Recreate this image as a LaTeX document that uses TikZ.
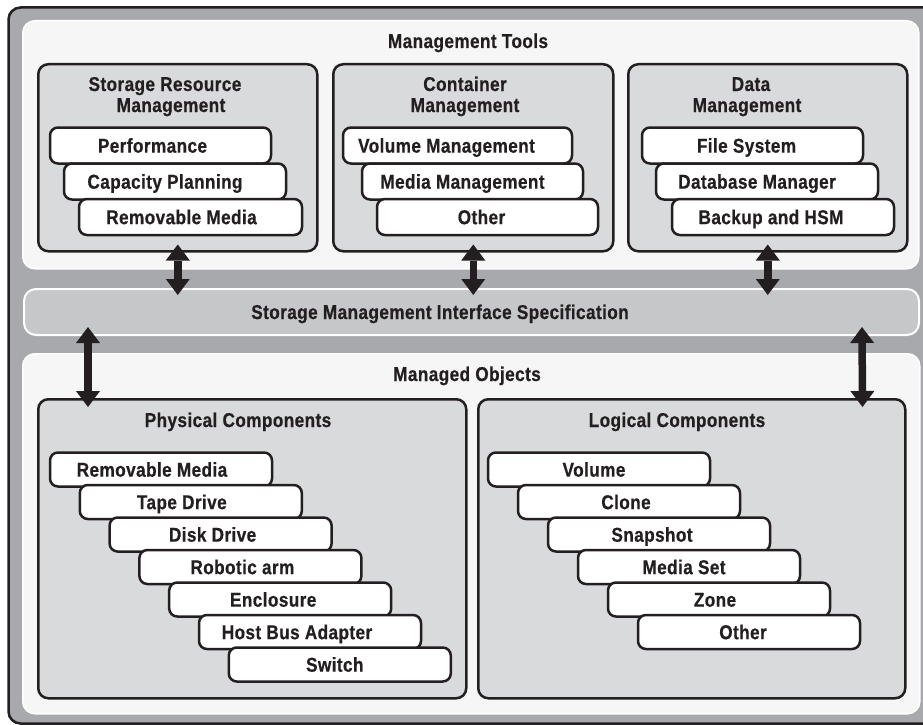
\documentclass[tikz,border=0pt]{standalone}
\usepackage{fontspec}
\setmainfont{Liberation Sans}[FakeStretch=0.86,LetterSpace=2,FakeBold=0.5]
\usetikzlibrary{arrows.meta}
\definecolor{outergray}{HTML}{A7A9AC}
\definecolor{panel}{HTML}{F6F6F6}
\definecolor{barfill}{HTML}{C6C7C9}
\definecolor{boxgray}{HTML}{D9DADB}
\definecolor{ink}{HTML}{231F20}
\newcommand{\txtfont}{\bfseries\fontsize{20}{21}\selectfont}
\begin{document}
\begin{tikzpicture}[x=1pt,y=-1pt,
  panelbox/.style={fill=panel, draw=white, line width=1.5pt, rounded corners=12pt, inner sep=0pt, anchor=north west},
  barbox/.style={fill=barfill, draw=white, line width=2pt, rounded corners=12pt, inner sep=0pt, anchor=north west},
  groupbox/.style={fill=boxgray, draw=ink, line width=2.5pt, rounded corners=10pt, inner sep=0pt, anchor=north west},
  itembox/.style={draw=ink, fill=white, line width=2.5pt, rounded corners=8pt, inner sep=0pt,
     minimum height=#1, text height=14.3pt, text depth=0pt, font=\txtfont, text=ink},
  itembox/.default=36pt,
  titletext/.style={anchor=base, font=\txtfont, text=ink, inner sep=0pt, align=center},
  dblarrow/.style={draw=ink, line width=7.5pt,
     {Triangle[width=24pt,length=16pt,line width=0pt]}-{Triangle[width=24pt,length=16pt,line width=0pt]}}
]
\useasboundingbox (0,0) rectangle (923,725);
\begin{scope}
  \clip (0,0) rectangle (923,725);
  \draw[fill=outergray, draw=ink, line width=2.5pt, rounded corners=12pt] (8.5,7.5) rectangle (945,723.5);
\end{scope}

% panels
\node[panelbox, minimum width=896pt, minimum height=248pt] (toolspanel) at (22,20) {};
\node[barbox, minimum width=895pt, minimum height=46pt] (smis) at (23,288) {};
\node[panelbox, minimum width=897pt, minimum height=360pt] (objpanel) at (22,353) {};

\node[titletext] (toolstitle) at (468,48) {Management Tools};
\node[titletext] (smistitle) at (440,319) {Storage Management Interface Specification};
\node[titletext] (objtitle) at (467,381) {Managed Objects};

% group boxes
\node[groupbox, minimum width=279pt, minimum height=187pt] (srm) at (37,63) {};
\node[groupbox, minimum width=280pt, minimum height=187pt] (cont) at (332,63) {};
\node[groupbox, minimum width=279pt, minimum height=187pt] (data) at (627,63) {};
\node[groupbox, minimum width=428pt, minimum height=299pt] (phys) at (37,398) {};
\node[groupbox, minimum width=427pt, minimum height=299pt] (logi) at (477,398) {};

\node[titletext] (srmt1) at (165,91) {Storage Resource};
\node[titletext] (srmt2) at (171,112) {Management};
\node[titletext] (contt1) at (465,91) {Container};
\node[titletext] (contt2) at (465,112) {Management};
\node[titletext] (datat1) at (751,91) {Data};
\node[titletext] (datat2) at (747,112) {Management};
\node[titletext] (physt) at (238,427) {Physical Components};
\node[titletext] (logit) at (677,427) {Logical Components};

% SRM items
\node[itembox, minimum width=221pt] (perf) at (160.5,145.5) {Performance\hspace*{16pt}};
\node[itembox, minimum width=222pt] (capa) at (175,181.5) {Capacity Planning\hspace*{20pt}};
\node[itembox, minimum width=223pt] (remo) at (190.5,217) {Removable Media\hspace*{18pt}};
% Container items
\node[itembox, minimum width=229pt] (volm) at (457.5,145.5) {Volume Management\hspace*{22pt}};
\node[itembox, minimum width=221pt] (medm) at (472.5,181.5) {Media Management\hspace*{20pt}};
\node[itembox, minimum width=221pt] (oth1) at (487.5,217) {Other\hspace*{12pt}};
% Data items
\node[itembox, minimum width=221pt] (fsys) at (752.5,145.5) {File System\hspace*{12pt}};
\node[itembox, minimum width=222pt] (dbm) at (767,181.5) {Database Manager\hspace*{20pt}};
\node[itembox, minimum width=222pt] (bkp) at (783,217) {Backup and HSM\hspace*{24pt}};

% Physical items
\node[itembox=34pt, minimum width=222pt] (p1) at (161,469.5) {Removable Media\hspace*{18pt}};
\node[itembox=34pt, minimum width=222pt] (p2) at (190.8,502) {Tape Drive\hspace*{18pt}};
\node[itembox=34pt, minimum width=222pt] (p3) at (220.6,534.5) {Disk Drive\hspace*{16pt}};
\node[itembox=34pt, minimum width=222pt] (p4) at (250.4,567) {Robotic arm\hspace*{16pt}};
\node[itembox=34pt, minimum width=222pt] (p5) at (280.2,599.5) {Enclosure\hspace*{14pt}};
\node[itembox=34pt, minimum width=222pt] (p6) at (310,632) {Host Bus Adapter\hspace*{26pt}};
\node[itembox=34pt, minimum width=222pt] (p7) at (339.8,664.5) {Switch\hspace*{10pt}};

% Logical items
\node[itembox=34pt, minimum width=222pt] (l1) at (599,469.5) {Volume\hspace*{10pt}};
\node[itembox=34pt, minimum width=222pt] (l2) at (629,502) {Clone\hspace*{6pt}};
\node[itembox=34pt, minimum width=222pt] (l3) at (659,534.5) {Snapshot\hspace*{14pt}};
\node[itembox=34pt, minimum width=222pt] (l4) at (689,567) {Media Set\hspace*{10pt}};
\node[itembox=34pt, minimum width=222pt] (l5) at (719,599.5) {Zone\hspace*{8pt}};
\node[itembox=34pt, minimum width=222pt] (l6) at (749,632) {Other\hspace*{12pt}};

% arrows
\draw[dblarrow] ([yshift=8pt]srm.south) -- ([yshift=-7pt]smis.north -| srm.south);
\draw[dblarrow] ([yshift=8pt]cont.south) -- ([yshift=-7pt]smis.north -| cont.south);
\draw[dblarrow] ([yshift=8pt]data.south) -- ([yshift=-7pt]smis.north -| data.south);
\draw[dblarrow] ([xshift=65pt,yshift=9pt]smis.south west) -- ([xshift=51pt,yshift=-9pt]phys.north west);
\draw[dblarrow] ([xshift=-58pt,yshift=9pt]smis.south east) -- ([xshift=-44pt,yshift=-9pt]logi.north east);
\end{tikzpicture}
\end{document}
